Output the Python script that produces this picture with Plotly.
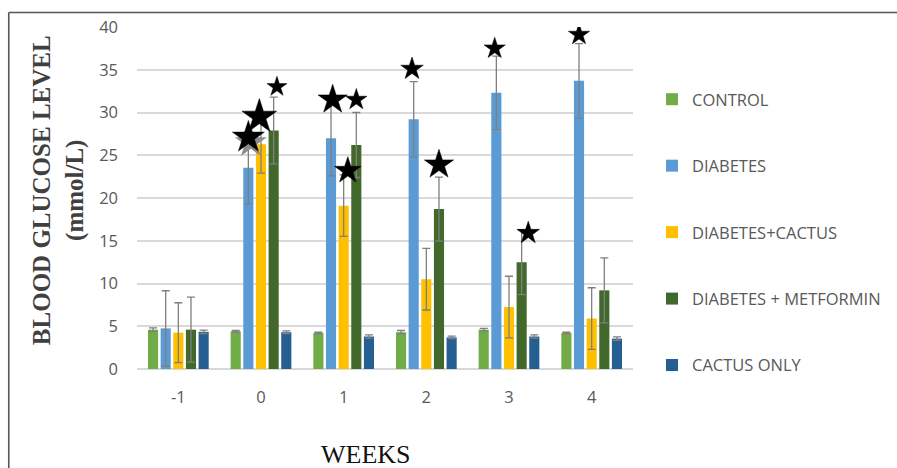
import plotly.graph_objects as go

# Weekly blood glucose (mmol/L), mean and error per treatment group
weeks = ["-1", "0", "1", "2", "3", "4"]

series_names = ["CONTROL", "DIABETES", "DIABETES+CACTUS", "DIABETES + METFORMIN", "CACTUS ONLY"]
series_colors = ["#70AD47", "#5B9BD5", "#FFC000", "#43682B", "#255E91"]

control = [4.6, 4.4, 4.2, 4.3, 4.6, 4.2]
diabetes = [4.75, 23.55, 27.0, 29.2, 32.3, 33.7]
diabetes_cactus = [4.25, 26.3, 19.1, 10.5, 7.25, 5.9]
diabetes_metformin = [4.6, 27.9, 26.2, 18.7, 12.5, 9.2]
cactus_only = [4.35, 4.3, 3.8, 3.7, 3.8, 3.55]

control_err = [0.2, 0.1, 0.1, 0.2, 0.15, 0.1]
diabetes_err = [4.4, 4.2, 4.4, 4.4, 4.3, 4.35]
diabetes_cactus_err = [3.5, 3.4, 3.6, 3.6, 3.6, 3.6]
diabetes_metformin_err = [3.8, 3.9, 3.8, 3.75, 3.8, 3.8]
cactus_only_err = [0.2, 0.15, 0.2, 0.15, 0.2, 0.2]

# Significance stars: (week index, series index, size px, gap above error bar, x nudge)
star_week = [1, 1, 1, 2, 2, 2, 3, 3, 4, 4, 5]
star_series = [1, 2, 3, 1, 2, 3, 1, 3, 1, 3, 1]
star_size = [24, 26, 15, 22, 20, 16, 17, 22, 16, 17, 16]
star_gap = [-0.65, -0.2, 1.2, 0.1, 0.5, 1.5, 1.5, 1.45, 0.9, -0.4, 1.05]
star_nudge = [0.0, -0.02, 0.04, 0.02, 0.05, 0.0, -0.02, 0.0, -0.02, 0.08, 0.0]

means = [control, diabetes, diabetes_cactus, diabetes_metformin, cactus_only]
errs = [control_err, diabetes_err, diabetes_cactus_err, diabetes_metformin_err, cactus_only_err]

BARGAP = 0.235
N_SERIES = len(series_names)
slot = (1 - BARGAP) / N_SERIES
xpos = list(range(len(weeks)))

fig = go.Figure()

for k in range(N_SERIES):
    fig.add_trace(go.Bar(
        x=xpos, y=means[k], name=series_names[k],
        marker=dict(color=series_colors[k], line=dict(width=0)),
        error_y=dict(type="data", array=errs[k], visible=True,
                     color="#7f7f7f", thickness=1.3, width=4),
        legendgroup=f"g{k}",
    ))

# star positions derived from the bar means and error bars
sx, sy = [], []
for w, s, g, n in zip(star_week, star_series, star_gap, star_nudge):
    sx.append(w + (s - (N_SERIES - 1) / 2) * slot + n)
    sy.append(means[s][w] + errs[s][w] + g)

# soft grey shadow behind the first week-0 star
fig.add_trace(go.Scatter(
    x=[sx[0] + 0.03], y=[sy[0] - 0.6], mode="markers",
    marker=dict(symbol="star", size=star_size[0], color="#8c8c8c",
                opacity=1, line=dict(width=0)),
    showlegend=False, hoverinfo="skip",
))
fig.add_trace(go.Scatter(
    x=sx, y=sy, mode="markers",
    marker=dict(symbol="star", size=star_size, color="#000000", opacity=1,
                line=dict(color="#000000", width=0.5)),
    showlegend=False, hoverinfo="skip",
))

L, R, T, B = 137, 263, 27, 99
W, H = 897, 468
pw, ph = W - L - R, H - T - B

def px_x(p):
    return (p - L) / pw

def px_y(p):
    return (H - B - p) / ph

fig.update_layout(
    width=W, height=H,
    margin=dict(l=L, r=R, t=T, b=B, pad=0),
    paper_bgcolor="white", plot_bgcolor="white",
    barmode="group", bargap=BARGAP, bargroupgap=0.2,
    font=dict(family="Open Sans, Liberation Sans, sans-serif", color="#595959"),
    legend=dict(
        x=px_x(652), y=px_y(82), xanchor="left", yanchor="top",
        font=dict(size=16.5, color="#595959", family="Open Sans, sans-serif"),
        traceorder="grouped", tracegroupgap=42,
        itemwidth=30, bgcolor="rgba(0,0,0,0)",
    ),
    xaxis=dict(
        tickmode="array", tickvals=xpos, ticktext=weeks,
        range=[-0.5, len(weeks) - 0.5],
        showgrid=False, showline=False, zeroline=False,
        ticks="", tickfont=dict(size=16.5, color="#595959"),
        ticklabelstandoff=16,
    ),
    yaxis=dict(
        range=[0, 40], dtick=5, tick0=0,
        showgrid=True, gridcolor="#d9d9d9", gridwidth=1.5,
        zeroline=True, zerolinecolor="#d9d9d9", zerolinewidth=1.5,
        showline=False, ticks="", tickfont=dict(size=16.5, color="#595959"),
        ticklabelstandoff=18,
    ),
    showlegend=True,
)

# y-axis title in bold serif, two lines
fig.add_annotation(
    x=px_x(58), y=px_y(190), xref="paper", yref="paper",
    text="<b>BLOOD GLUCOSE LEVEL<br>(mmol/L)</b>", textangle=-90,
    showarrow=False, xanchor="center", yanchor="middle",
    font=dict(family="Liberation Serif, serif", size=25, color="#404040"),
)
fig.add_annotation(
    x=px_x(366), y=px_y(454), xref="paper", yref="paper",
    text="WEEKS", showarrow=False, xanchor="center", yanchor="middle",
    font=dict(family="Liberation Serif, serif", size=26, color="#111111"),
)

# outer frame (top and left edges)
fig.add_shape(type="line", xref="paper", yref="paper",
              x0=px_x(8.5), x1=px_x(W + 5), y0=px_y(12.5), y1=px_y(12.5),
              line=dict(color="#555555", width=1.6))
fig.add_shape(type="line", xref="paper", yref="paper",
              x0=px_x(8.5), x1=px_x(8.5), y0=px_y(12.5), y1=px_y(H + 5),
              line=dict(color="#555555", width=1.6))

fig.write_html("out.html")
